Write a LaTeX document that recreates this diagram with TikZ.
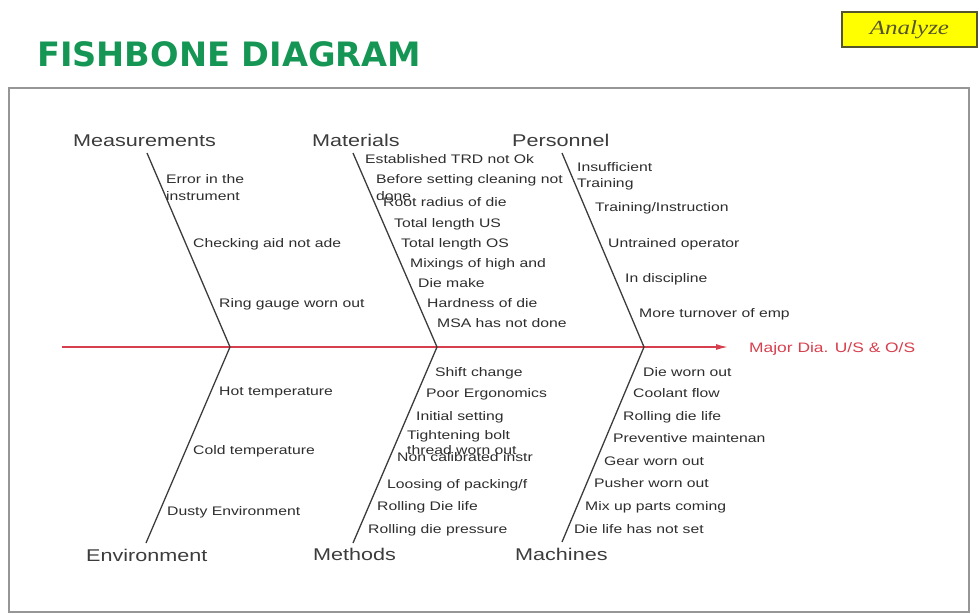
\documentclass[tikz,border=0pt]{standalone}
\usepackage{fontspec}
\usetikzlibrary{arrows.meta}
\setmainfont{Liberation Sans}
\newfontfamily\causefont[FakeStretch=1.27]{Liberation Sans}
\newfontfamily\titlefont{DejaVu Sans}
\newfontfamily\tagfont[FakeStretch=1.25]{Liberation Serif}
\definecolor{titlegreen}{RGB}{22,150,84}
\definecolor{spinered}{RGB}{214,64,78}
\definecolor{boneink}{RGB}{60,60,60}
\definecolor{textink}{RGB}{45,45,45}
\definecolor{frameink}{RGB}{150,150,150}
\definecolor{tagfill}{RGB}{255,255,0}
\definecolor{tagink}{RGB}{85,85,45}
\tikzset{
  cause/.style={inner sep=0pt, text=textink, anchor=base west,
    font=\causefont\fontsize{12.4}{17}\selectfont},
  category/.style={inner sep=0pt, text=boneink, anchor=base west,
    font=\causefont\fontsize{17}{20}\selectfont},
  bone/.style={draw=boneink, line width=1.3pt},
  spine/.style={draw=spinered, line width=1.4pt, -{Latex[length=12pt,width=6pt]}},
}
\begin{document}
\begin{tikzpicture}[x=1pt,y=-1pt]
\useasboundingbox (0,0) rectangle (979,613);

% heading and stage tag
\node[inner sep=0pt, anchor=base west, text=titlegreen,
  font=\titlefont\bfseries\fontsize{33.6}{36}\selectfont] (title) at (37,66) {FISHBONE DIAGRAM};
\node[draw=tagink, line width=1.5pt, fill=tagfill, minimum width=135pt, minimum height=35pt,
  inner sep=0pt, text=tagink, font=\tagfont\itshape\fontsize{20}{22}\selectfont] (tag) at (909.5,29.5) {Analyze};

% frame
\draw[frameink, line width=2pt] (9,88) rectangle (969,612);

% spine and effect
\coordinate (tail) at (62,347);
\coordinate (head) at (728,347);
\node[inner sep=0pt, anchor=base west, text=spinered,
  font=\causefont\fontsize{13.7}{16}\selectfont] (effect) at (749,352) {Major Dia. U/S \& O/S};
\draw[spine] (tail) -- (head);

% bone end points
\coordinate (jA) at (230,347);
\coordinate (jB) at (437,347);
\coordinate (jC) at (644,347);
\coordinate (mTop) at (147,153);
\coordinate (matTop) at (353,153);
\coordinate (pTop) at (562,153);
\coordinate (eBot) at (146,543);
\coordinate (metBot) at (353,543);
\coordinate (macBot) at (562,542);

\draw[bone] (mTop) -- (jA);
\draw[bone] (matTop) -- (jB);
\draw[bone] (pTop) -- (jC);
\draw[bone] (jA) -- (eBot);
\draw[bone] (jB) -- (metBot);
\draw[bone] (jC) -- (macBot);

% category names
\node[category] (meas) at (73,146) {Measurements};
\node[category] (mat) at (312,146) {Materials};
\node[category] (pers) at (512,146) {Personnel};
\node[category] (env) at (86,561) {Environment};
\node[category] (meth) at (313,560) {Methods};
\node[category] (mach) at (515,560) {Machines};

% Measurements causes
\node[cause, align=left, anchor=north west] (m1) at (166,174.5) {Error in the\\instrument};
\node[cause] (m2) at (193,247.5) {Checking aid not ade};
\node[cause] (m3) at (219,307.5) {Ring gauge worn out};

% Materials causes
\node[cause] (t1) at (365,163.5) {Established TRD not Ok};
\node[cause, align=left, anchor=north west] (t2) at (376,174.5) {Before setting cleaning not\\done};
\node[cause] (t3) at (383,206.5) {Root radius of die};
\node[cause] (t4) at (394,227.5) {Total length US};
\node[cause] (t5) at (401,247.5) {Total length OS};
\node[cause] (t6) at (410,267.5) {Mixings of high and};
\node[cause] (t7) at (418,287.5) {Die make};
\node[cause] (t8) at (427,307.5) {Hardness of die};
\node[cause] (t9) at (437,327.5) {MSA has not done};

% Personnel causes
\node[cause, align=left, anchor=north west,
  font=\causefont\fontsize{12.4}{16}\selectfont] (p1) at (577,162.5) {Insufficient\\Training};
\node[cause] (p2) at (595,211.5) {Training/Instruction};
\node[cause] (p3) at (608,247.5) {Untrained operator};
\node[cause] (p4) at (625,282.5) {In discipline};
\node[cause] (p5) at (639,317.5) {More turnover of emp};

% Environment causes
\node[cause] (e1) at (219,395.5) {Hot temperature};
\node[cause] (e2) at (193,454.5) {Cold temperature};
\node[cause] (e3) at (167,515.5) {Dusty Environment};

% Methods causes
\node[cause] (d1) at (435,376.5) {Shift change};
\node[cause] (d2) at (426,397.5) {Poor Ergonomics};
\node[cause] (d3) at (416,420.5) {Initial setting};
\node[cause, align=left, anchor=north west,
  font=\causefont\fontsize{12.4}{15}\selectfont] (d4) at (407,430.5) {Tightening bolt\\thread worn out};
\node[cause] (d5) at (397,461.5) {Non calibrated instr};
\node[cause] (d6) at (387,488.5) {Loosing of packing/f};
\node[cause] (d7) at (377,510.5) {Rolling Die life};
\node[cause] (d8) at (368,533.5) {Rolling die pressure};

% Machines causes
\node[cause] (c1) at (643,376.5) {Die worn out};
\node[cause] (c2) at (633,397.5) {Coolant flow};
\node[cause] (c3) at (623,420.5) {Rolling die life};
\node[cause] (c4) at (613,442.5) {Preventive maintenan};
\node[cause] (c5) at (604,465.5) {Gear worn out};
\node[cause] (c6) at (594,487.5) {Pusher worn out};
\node[cause] (c7) at (585,510.5) {Mix up parts coming};
\node[cause] (c8) at (574,533.5) {Die life has not set};
\end{tikzpicture}
\end{document}
